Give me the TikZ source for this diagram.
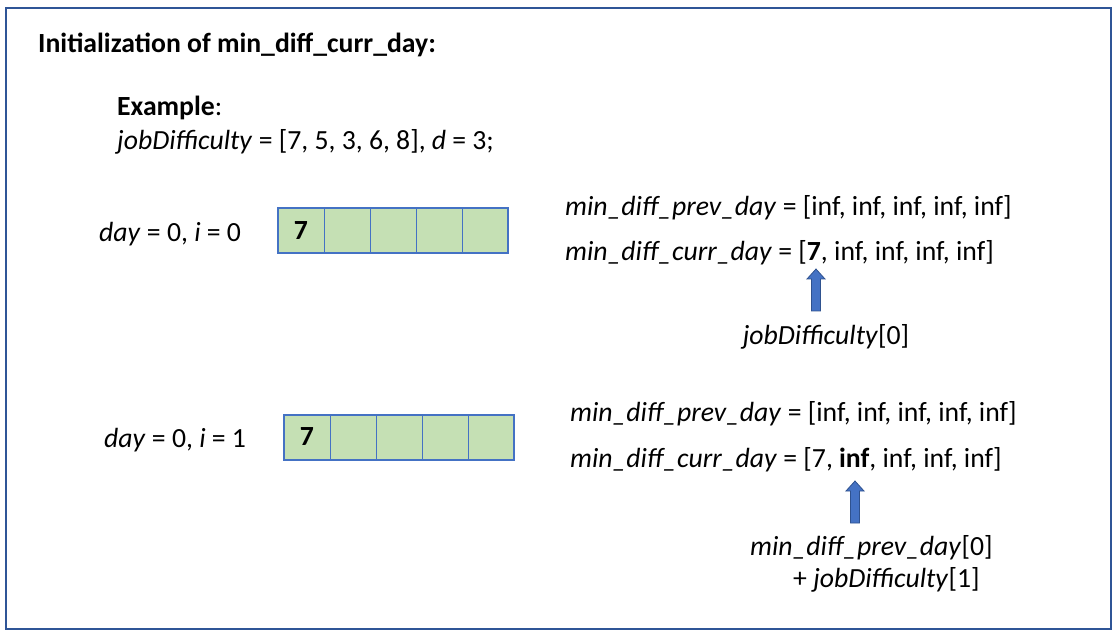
\documentclass[tikz,border=0pt]{standalone}
\usepackage{fontspec}
\setmainfont{Carlito}
\definecolor{frameblue}{HTML}{2F5597}
\definecolor{cellgreen}{HTML}{C5E0B4}
\definecolor{cellline}{HTML}{4472C4}
\definecolor{arrowfill}{HTML}{4472C4}
\definecolor{arrowline}{HTML}{2F528F}
\tikzset{
  txt/.style={anchor=base west, inner sep=0pt, font=\fontsize{27.7}{32}\selectfont},
  ctxt/.style={anchor=base, inner sep=0pt, font=\fontsize{27.7}{32}\selectfont},
  cell/.style={draw=cellline, fill=cellgreen, line width=1pt, minimum width=46pt, minimum height=45pt, inner sep=0pt, outer sep=0pt, anchor=west, font=\fontsize{27.7}{32}\selectfont\bfseries},
  blockup/.pic={\draw[draw=arrowline, fill=arrowfill, line width=0.8pt, line join=miter]
      (-4.5,42) -- (-4.5,10) -- (-9,10) -- (0,0) -- (9,10) -- (4.5,10) -- (4.5,42) -- cycle;}
}
\begin{document}
\begin{tikzpicture}[x=1pt,y=-1pt]
\useasboundingbox (0,0) rectangle (1119,636);
\node[draw=frameblue, line width=2pt, minimum width=1105pt, minimum height=621pt, anchor=north west, inner sep=0pt, outer sep=0pt] (frame) at (6,8) {};
\node[txt, font=\fontsize{27.7}{32}\selectfont\bfseries] (title) at (38,53) {Initialization of min\_diff\_curr\_day:};
\node[txt] (ex) at (117,116) {\textbf{Example}:};
\node[txt] (jd) at (117,150) {\textit{jobDifficulty} = [7, 5, 3, 6, 8], \textit{d} = 3;};
% first row
\node[txt] (day0) at (99,242) {\textit{day} = 0, \textit{i} = 0};
\node[cell] (a1) at (278,231) {7};
\node[cell] (a2) at (a1.east) {};
\node[cell] (a3) at (a2.east) {};
\node[cell] (a4) at (a3.east) {};
\node[cell] (a5) at (a4.east) {};
\draw[cellline, line width=2pt] (a1.north west) rectangle (a5.south east);
\node[txt] (prev0) at (565,216) {\textit{min\_diff\_prev\_day} = [inf, inf, inf, inf, inf]};
\node[txt] (curr0) at (565,261) {\textit{min\_diff\_curr\_day} = [\textbf{7}, inf, inf, inf, inf]};
\pic (arr0) at (816,269) {blockup};
\node[ctxt] (lab0) at (826,344) {\textit{jobDifficulty}[0]};
% second row
\node[txt] (day1) at (104,447) {\textit{day} = 0, \textit{i} = 1};
\node[cell] (b1) at (284,437) {7};
\node[cell] (b2) at (b1.east) {};
\node[cell] (b3) at (b2.east) {};
\node[cell] (b4) at (b3.east) {};
\node[cell] (b5) at (b4.east) {};
\draw[cellline, line width=2pt] (b1.north west) rectangle (b5.south east);
\node[txt] (prev1) at (570,421) {\textit{min\_diff\_prev\_day} = [inf, inf, inf, inf, inf]};
\node[txt] (curr1) at (570,467) {\textit{min\_diff\_curr\_day} = [7, \textbf{inf}, inf, inf, inf]};
\pic (arr1) at (855,481) {blockup};
\node[txt] (lab1a) at (750,555) {\textit{min\_diff\_prev\_day}[0]};
\node[txt] (lab1b) at (793,587) {+ \textit{jobDifficulty}[1]};
\end{tikzpicture}
\end{document}
